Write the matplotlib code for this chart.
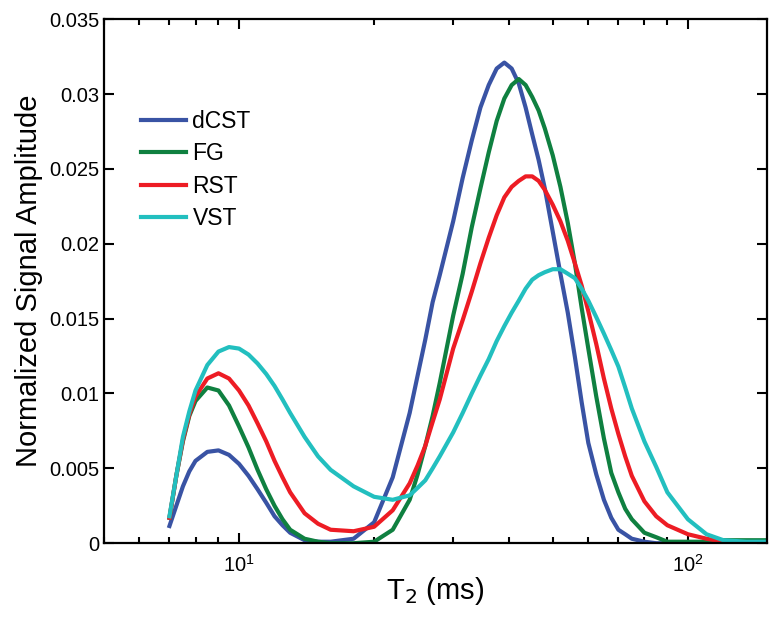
import numpy as np
import matplotlib
matplotlib.use('Agg')
import matplotlib.pyplot as plt
from matplotlib.ticker import FuncFormatter, LogLocator, NullFormatter

plt.rcParams['font.family'] = ['Liberation Sans', 'DejaVu Sans']

t2 = [7, 7.25, 7.5, 7.75, 8, 8.5, 9, 9.5, 10, 10.5, 11, 11.5, 12, 12.5, 13, 14, 15, 16, 18, 20,
      22, 24, 25, 26, 27, 28, 30, 31.5, 33, 34.5, 36, 37.5, 39, 40.5, 42, 43.5, 45, 46.5, 48, 50,
      52, 54, 56, 58, 60, 62.5, 65, 67.5, 70, 72.5, 75, 80, 85, 90, 100, 110, 120, 135, 150]

dcst = [0.00115, 0.0025, 0.0038, 0.0048, 0.0055, 0.0061, 0.0062, 0.0059, 0.0053,
        0.0045, 0.0036, 0.0027, 0.0018, 0.0012, 0.0007, 0.0002, 0.0001, 0.0001, 0.0003, 0.0014,
        0.0044, 0.0087, 0.0112, 0.0136, 0.0161, 0.0179, 0.0215, 0.0244, 0.0269, 0.0291,
        0.0306, 0.0317, 0.0321, 0.0317, 0.0307, 0.0291, 0.0273, 0.0256, 0.0237, 0.0208,
        0.0180, 0.0154, 0.01245, 0.0094, 0.0067, 0.0046, 0.0029, 0.0017, 0.0009, 0.0006,
        0.0003, 0.0001, 0, 0, 0, 0, 0, 0, 0]

fg = [0.0017, 0.0045, 0.0068, 0.0085, 0.0095, 0.0104, 0.0102, 0.0092, 0.0078,
      0.0064, 0.0049, 0.0036, 0.0025, 0.0016, 0.0009, 0.0003, 0.0001, 0, 0, 0.0001,
      0.0009, 0.0029, 0.0046, 0.0065, 0.0085, 0.0107, 0.0152, 0.0180, 0.0211, 0.0237,
      0.0261, 0.0282, 0.0297, 0.0306, 0.0310, 0.0306, 0.0298, 0.0289, 0.0277, 0.0259,
      0.0238, 0.0214, 0.0187, 0.0157, 0.0130, 0.0098, 0.0070, 0.0047, 0.0034, 0.0023,
      0.0016, 0.0007, 0.0004, 0.0001, 0.0001, 0.0001, 0.0002, 0.0002, 0.0002]

rst = [0.0017, 0.0045, 0.0069, 0.0086, 0.0098, 0.0110, 0.01135, 0.0110, 0.0102,
       0.0092, 0.0080, 0.0068, 0.0055, 0.0044, 0.0034, 0.0020, 0.0013, 0.0009, 0.0008, 0.0011,
       0.0022, 0.0040, 0.0052, 0.0065, 0.0081, 0.0096, 0.0130, 0.0149, 0.0168, 0.0187,
       0.0204, 0.0219, 0.0231, 0.0238, 0.0242, 0.0245, 0.0245, 0.0242, 0.0236, 0.0226,
       0.0215, 0.0202, 0.0187, 0.0172, 0.0155, 0.0133, 0.0110, 0.0090, 0.0073, 0.0058,
       0.0045, 0.0028, 0.0018, 0.0012, 0.0006, 0.0003, 0.0001, 0, 0]

vst = [0.0018, 0.0045, 0.0071, 0.0088, 0.0102, 0.0119, 0.0128, 0.0131, 0.0130,
       0.0126, 0.0120, 0.0113, 0.0105, 0.0096, 0.0087, 0.0071, 0.0058, 0.0049, 0.0038, 0.0031,
       0.0029, 0.0032, 0.0037, 0.0042, 0.0050, 0.0058, 0.0074, 0.0087, 0.0100, 0.0112,
       0.0123, 0.0135, 0.0145, 0.0154, 0.0162, 0.0170, 0.0176, 0.0179, 0.0181, 0.0183,
       0.0183, 0.0180, 0.0177, 0.0170, 0.0162, 0.0151, 0.0140, 0.0129, 0.0118, 0.0104,
       0.0090, 0.0068, 0.0051, 0.0034, 0.0016, 0.0006, 0.0002, 0.0001, 0.0001]

labels = ['dCST', 'FG', 'RST', 'VST']
colors = ['#3953a4', '#0f8040', '#ed1c24', '#22bfbf']

fig = plt.figure(figsize=(7.81, 6.18), dpi=100)
ax = fig.add_axes([0.133, 0.121, 0.849, 0.848])

for y, lab, c in zip([dcst, fg, rst, vst], labels, colors):
    ax.plot(t2, y, color=c, lw=3, label=lab, solid_joinstyle='round')

ax.set_xscale('log')
ax.set_xlim(5, 150)
ax.set_ylim(0, 0.035)
ax.set_yticks(np.arange(0, 0.0351, 0.005))
ax.yaxis.set_major_formatter(FuncFormatter(lambda v, p: '%g' % round(v, 4)))
ax.xaxis.set_minor_locator(LogLocator(base=10, subs=np.arange(2, 10)))
ax.xaxis.set_minor_formatter(NullFormatter())

for s in ax.spines.values():
    s.set_linewidth(1.6)
ax.tick_params(which='both', direction='in', top=True, right=True, width=1.5)
ax.tick_params(which='major', length=7, labelsize=14.5)
ax.tick_params(which='minor', length=4)
ax.tick_params(axis='x', pad=8)

ax.set_xlabel('T$_2$ (ms)', fontsize=21, labelpad=-1)
ax.set_ylabel('Normalized Signal Amplitude', fontsize=21)

ax.legend(loc='upper left', bbox_to_anchor=(0.042, 0.845), frameon=False, fontsize=16.5,
          handlelength=1.95, handletextpad=0.3, labelspacing=0.42, borderaxespad=0)

fig.savefig('out.png', dpi=100)
